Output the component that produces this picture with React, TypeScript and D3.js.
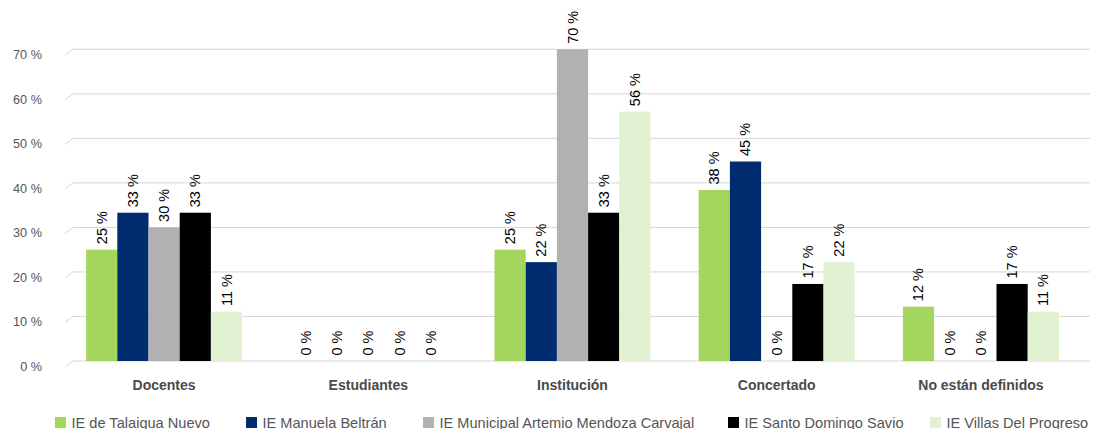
import React from "react";
import * as d3 from "d3";

const categories = ["Docentes", "Estudiantes", "Institución", "Concertado", "No están definidos"];
const seriesNames = [
  "IE de Talaigua Nuevo",
  "IE Manuela Beltrán",
  "IE Municipal Artemio Mendoza Carvajal",
  "IE Santo Domingo Savio",
  "IE Villas Del Progreso",
];
const talaigua = [25, 0, 25, 38.4, 12.2];
const manuela = [33.3, 0, 22.2, 44.8, 0];
const artemio = [30, 0, 70, 0, 0];
const santoDomingo = [33.3, 0, 33.3, 17.3, 17.3];
const villas = [11.1, 0, 56, 22.2, 11.1];
const seriesValues = [talaigua, manuela, artemio, santoDomingo, villas];
const yTicks = [0, 10, 20, 30, 40, 50, 60, 70];
const colors = ["#a4d65e", "#002b6f", "#b1b1b1", "#000000", "#e2f1d2"];
const legendX = [55, 246, 423, 728, 930];

const FONT = "'Liberation Sans', Arial, Helvetica, sans-serif";

export default function App() {
  const W = 1099;
  const H = 429;
  const x0 = d3.scaleBand<string>().domain(categories).range([62, 1083]).paddingInner(0.236).paddingOuter(0.118);
  const x1 = d3.scaleBand<string>().domain(seriesNames).range([0, x0.bandwidth()]).padding(0);
  const y = d3.scaleLinear().domain([0, 70]).range([361, 49.3]);
  const depth = 8;
  const drop = 6;

  return (
    <svg width={W} height={H} style={{ position: "absolute", left: 0, top: 0, background: "#fff" }} fontFamily={FONT}>
      {yTicks.map((t) => (
        <g key={t}>
          <line x1={65 + depth} x2={1090} y1={y(t)} y2={y(t)} stroke="#d6d6d6" strokeWidth={1} />
          <line x1={65} x2={65 + depth} y1={y(t) + drop} y2={y(t)} stroke="#d6d6d6" strokeWidth={1} />
          <text x={42} y={y(t) + drop} textAnchor="end" dominantBaseline="central" fontSize={12.7} fill="#555">
            {t} %
          </text>
        </g>
      ))}
      {categories.map((c, ci) => (
        <g key={c}>
          {seriesNames.map((s, si) => {
            const v = seriesValues[si][ci];
            const bx = (x0(c) as number) + (x1(s) as number);
            const bw = x1.bandwidth();
            const top = y(v);
            const cx = bx + bw / 2;
            return (
              <g key={s}>
                {v > 0 && <rect x={bx} y={top} width={bw} height={y(0) - top} fill={colors[si]} />}
                <text
                  transform={`translate(${cx},${top - 5.5}) rotate(-90)`}
                  textAnchor="start"
                  dominantBaseline="central"
                  fontSize={14.5}
                  fill="#000"
                >
                  {Math.round(v)} %
                </text>
              </g>
            );
          })}
          <text
            x={(x0(c) as number) + x0.bandwidth() / 2}
            y={385}
            textAnchor="middle"
            dominantBaseline="central"
            fontSize={14}
            fontWeight="bold"
            fill="#4a4a4a"
          >
            {c}
          </text>
        </g>
      ))}
      {seriesNames.map((s, i) => (
        <g key={s}>
          <rect x={legendX[i]} y={417} width={11} height={11} fill={colors[i]} />
          <text x={legendX[i] + 16.5} y={422.5} dominantBaseline="central" fontSize={14.6} fill="#555">
            {s}
          </text>
        </g>
      ))}
    </svg>
  );
}
